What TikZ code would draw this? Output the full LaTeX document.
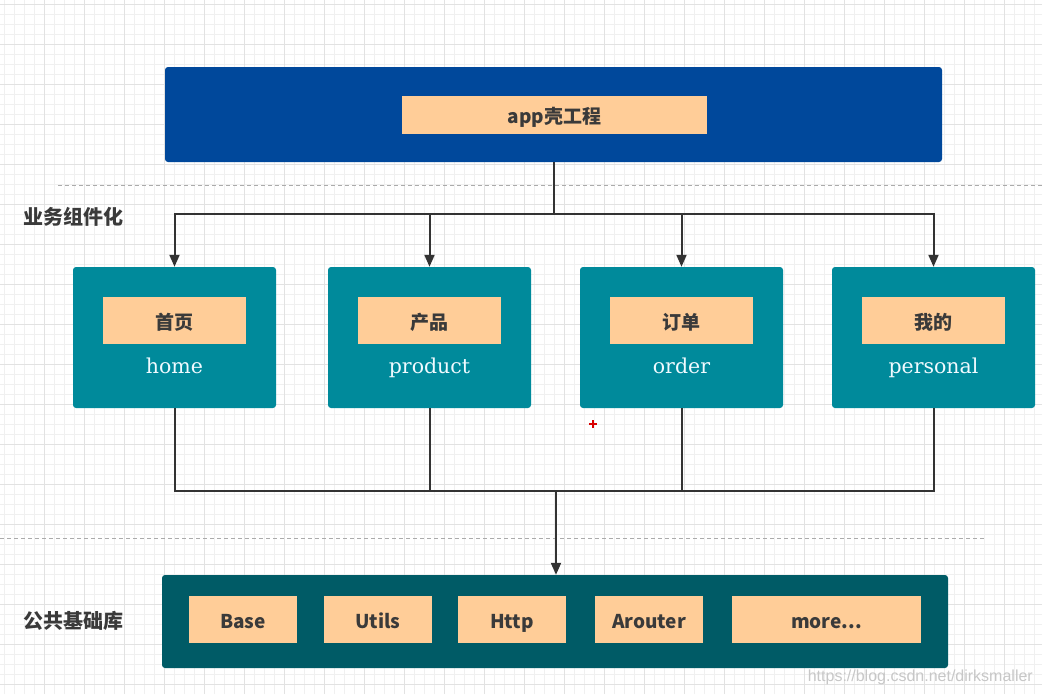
\documentclass[tikz,border=0pt]{standalone}
\usepackage{fontspec}
\setmainfont{Liberation Sans}
\newfontfamily\cjk{Noto Sans CJK SC}
\newfontfamily\serifname{DejaVu Serif}
\usetikzlibrary{arrows.meta}
\definecolor{topblue}{HTML}{00489B}
\definecolor{modteal}{HTML}{008A9B}
\definecolor{baseteal}{HTML}{005B66}
\definecolor{peach}{HTML}{FFCD98}
\definecolor{txtdark}{HTML}{3A3A3A}
\definecolor{linec}{HTML}{333333}
\definecolor{gridminor}{HTML}{F0F0F0}
\definecolor{gridmajor}{HTML}{E2E2E2}
\definecolor{namec}{HTML}{F0FAFF}
\tikzset{
  peachbox/.style={fill=peach, minimum width=#1, minimum height=47pt, inner sep=0pt, text height=17.5pt, text depth=0.5pt, text=txtdark, font=\cjk\bfseries\fontsize{19}{22}\selectfont},
  modbox/.style={fill=modteal, rounded corners=3pt, minimum width=203pt, minimum height=141pt, inner sep=0pt},
  modname/.style={anchor=base, text=namec, font=\serifname\fontsize{20.5}{24}\selectfont, inner sep=0pt},
  sidelabel/.style={anchor=west, text=txtdark, font=\cjk\bfseries\fontsize{20}{23}\selectfont, inner sep=0pt},
  conn/.style={draw=linec, line width=2pt},
  arr/.style={conn, -{Triangle[width=10pt,length=12pt]}},
  sep/.style={draw=black!33, line width=1pt, dash pattern=on 4pt off 3pt}
}
\begin{document}
\begin{tikzpicture}[x=1pt,y=-1pt]
\useasboundingbox (0,0) rectangle (1042,694);
\fill[white] (0,0) rectangle (1042,694);
% grid
\foreach \g in {4.7,14.7,...,1042}{\draw[gridminor, line width=0.8pt] (\g,0) -- (\g,694);}
\foreach \g in {4.7,14.7,...,694}{\draw[gridminor, line width=0.8pt] (0,\g) -- (1042,\g);}
\foreach \g in {44.7,84.7,...,1042}{\draw[gridmajor, line width=0.9pt] (\g,0) -- (\g,694);}
\foreach \g in {4.7,44.7,...,694}{\draw[gridmajor, line width=0.9pt] (0,\g) -- (1042,\g);}

% separators
\coordinate (s1a) at (58,185); \coordinate (s1b) at (1042,185);
\coordinate (s2a) at (0,538); \coordinate (s2b) at (985,538);
\draw[sep] (s1a) -- (s1b);
\draw[sep] (s2a) -- (s2b);

% side labels
\node[sidelabel] (lbl1) at (23,217) {业务组件化};
\node[sidelabel] (lbl2) at (23,621) {公共基础库};

% top shell
\node[fill=topblue, rounded corners=3pt, minimum width=777pt, minimum height=95pt, inner sep=0pt] (top) at (553.5,114.5) {};
\node[peachbox=305pt, minimum height=38pt] (app) at (554.5,115) {app壳工程};

% modules
\foreach \n/\x/\cn/\en in {m1/174.5/首页/home, m2/429.5/产品/product, m3/681.5/订单/order, m4/933.5/我的/personal}{
  \node[modbox] (\n) at (\x,337.5) {};
  \node[peachbox=143pt] (\n l) at (\x,320.5) {\cn};
  \node[modname] (\n n) at (\x,373) {\en};
}

% base layer
\node[fill=baseteal, rounded corners=3pt, minimum width=786pt, minimum height=93pt, inner sep=0pt] (bot) at (555,621.5) {};
\node[peachbox=108pt] (b1) at (243,619.5) {Base};
\node[peachbox=108pt] (b2) at (378,619.5) {Utils};
\node[peachbox=108pt] (b3) at (512,619.5) {Http};
\node[peachbox=108pt] (b4) at (649,619.5) {Arouter};
\node[peachbox=189pt] (b5) at (826.5,619.5) {more...};

% connectors top -> modules
\coordinate (j1) at (553.5,214);
\foreach \n in {m1,m2,m3,m4}{
  \draw[arr] (top.south) -- (j1) -| (\n.north);
}
% modules -> base
\coordinate (j2) at (556,491);
\foreach \n in {m1,m2,m3,m4}{
  \draw[conn] (\n.south) |- (j2);
}
\draw[arr] (j2) -- (j2 |- bot.north);

% red cursor mark
\coordinate (rc) at (593,424);
\draw[red!85!black, line width=1.3pt] ([xshift=-4pt]rc) -- ([xshift=4pt]rc) ([yshift=-4pt]rc) -- ([yshift=4pt]rc);

% watermark
\node[anchor=east, text=black!22, font=\fontsize{16}{18}\selectfont, inner sep=0pt] (wm) at (1033,677) {https://blog.csdn.net/dirksmaller};
\end{tikzpicture}
\end{document}
